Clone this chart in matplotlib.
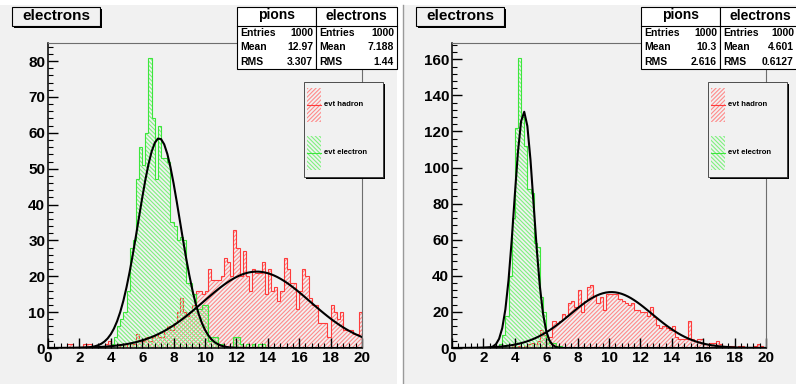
import numpy as np
import matplotlib
matplotlib.use("Agg")
import matplotlib.pyplot as plt
from matplotlib.patches import Rectangle
from matplotlib.lines import Line2D
from matplotlib.ticker import MultipleLocator

plt.rcParams['font.family'] = ['Liberation Sans', 'DejaVu Sans']
plt.rcParams['font.weight'] = 'bold'
plt.rcParams['hatch.linewidth'] = 0.8

W, H = 796, 384

# 100 bins from 0 to 20
edges = np.linspace(0, 20, 101)

left_pions = [0, 0, 0, 0, 0, 0, 1, 1, 0, 0,
              0, 1, 1, 1, 0, 0, 0, 0, 1, 2,
              0, 0, 1, 0, 1, 0, 1, 1, 4, 2,
              2, 3, 2, 3, 4, 3, 3, 5, 6, 5,
              7, 10, 14, 10, 9, 10, 12, 16, 16, 15,
              16, 22, 19, 19, 19, 20, 25, 24, 20, 33,
              28, 20, 27, 20, 16, 22, 21, 21, 24, 15,
              22, 16, 17, 13, 16, 25, 22, 18, 18, 11,
              16, 22, 20, 14, 12, 12, 7, 7, 7, 3,
              12, 10, 8, 10, 5, 5, 5, 4, 4, 10]
left_electrons = [0, 0, 0, 0, 0, 0, 0, 0, 0, 0,
                  0, 0, 0, 0, 0, 0, 0, 0, 0, 0,
                  1, 3, 6, 8, 10, 16, 28, 30, 47, 56,
                  51, 60, 81, 64, 47, 62, 53, 53, 52, 35,
                  34, 30, 31, 30, 18, 18, 15, 11, 11, 12,
                  12, 2, 3, 3, 1, 1, 0, 0, 0, 3,
                  3, 1, 0, 1, 0, 1, 0, 1, 1, 0,
                  0, 0, 0, 0, 0, 0, 0, 0, 0, 0,
                  0, 0, 0, 0, 0, 0, 0, 0, 0, 0,
                  0, 0, 0, 0, 0, 0, 0, 0, 0, 0]
right_pions = [0, 0, 0, 0, 0, 0, 0, 0, 0, 0,
               0, 0, 0, 0, 0, 0, 0, 0, 0, 1,
               0, 1, 0, 1, 2, 3, 2, 4, 10, 7,
               6, 6, 15, 14, 15, 19, 18, 25, 26, 23,
               32, 20, 26, 34, 35, 29, 25, 28, 21, 30,
               30, 30, 30, 27, 26, 25, 24, 25, 21, 21,
               20, 20, 18, 23, 17, 13, 11, 12, 11, 10,
               12, 6, 5, 5, 5, 15, 5, 4, 5, 5,
               2, 2, 3, 3, 4, 2, 1, 1, 1, 1,
               0, 1, 1, 0, 0, 0, 1, 2, 1, 0]
right_electrons = [0, 0, 0, 0, 0, 0, 0, 0, 0, 0,
                   0, 0, 0, 0, 0, 2, 7, 18, 40, 72,
                   122, 161, 128, 112, 88, 86, 58, 56, 28, 20,
                   5, 3, 3, 1, 1, 0, 0, 0, 0, 0,
                   0, 0, 0, 0, 0, 0, 0, 0, 0, 0,
                   0, 0, 0, 0, 0, 0, 0, 0, 0, 0,
                   0, 0, 0, 0, 0, 0, 0, 0, 0, 0,
                   0, 0, 0, 0, 0, 0, 0, 0, 0, 0,
                   0, 0, 0, 0, 0, 0, 0, 0, 0, 0,
                   0, 0, 0, 0, 0, 0, 0, 0, 0, 0]

# gaussian fit parameters: constant, mean, sigma
left_fit_pions = (21.3, 13.3, 3.4)
left_fit_electrons = (58.5, 7.08, 1.32)
right_fit_pions = (31.0, 10.15, 2.6)
right_fit_electrons = (131.0, 4.58, 0.62)

# stats box text
stat_labels = ["Entries", "Mean", "RMS"]
left_stats_pions = ["1000", "12.97", "3.307"]
left_stats_electrons = ["1000", "7.188", "1.44"]
right_stats_pions = ["1000", "10.3", "2.616"]
right_stats_electrons = ["1000", "4.601", "0.6127"]

legend_labels = ["evt hadron", "evt electron"]

PAD = '#f1f1f1'
RED_LINE, RED_HATCH = '#ff3b3b', '#ff8a8a'
GRN_LINE, GRN_HATCH = '#3ce63c', '#7ef27e'
HATCH_P = '////////'
HATCH_E = '\\\\\\\\\\\\\\\\'

fig = plt.figure(figsize=(W / 100, H / 100), dpi=100, facecolor='white')


def rect(x0, y0, x1, y1, **kw):
    r = Rectangle((x0 / W, 1 - y1 / H), (x1 - x0) / W, (y1 - y0) / H,
                  transform=fig.transFigure, **kw)
    fig.add_artist(r)


def text(x, y, s, **kw):
    fig.text(x / W, 1 - y / H, s, va='center', **kw)


def gaus(p, x):
    return p[0] * np.exp(-0.5 * ((x - p[1]) / p[2]) ** 2)


def panel(px, pions, electrons, fit_p, fit_e, st_p, st_e, ymaj, ymin):
    # pad background, behind the axes
    rect(px, 5, px + 397, 384, facecolor=PAD, edgecolor='none', zorder=-10)
    x0, x1 = px + 48, px + 362
    ax = fig.add_axes([x0 / W, 1 - 348 / H, (x1 - x0) / W, 305 / H])
    ax.set_facecolor(PAD)
    ax.stairs(pions, edges, fill=True, facecolor='none', edgecolor=RED_HATCH,
              hatch=HATCH_P, linewidth=0)
    ax.stairs(pions, edges, color=RED_LINE, linewidth=0.8)
    ax.stairs(electrons, edges, fill=True, facecolor='none', edgecolor=GRN_HATCH,
              hatch=HATCH_E, linewidth=0)
    ax.stairs(electrons, edges, color=GRN_LINE, linewidth=0.8)
    xf = np.linspace(0, 20, 101)
    ax.plot(xf, gaus(fit_p, xf), color='black', lw=1.5)
    ax.plot(xf, gaus(fit_e, xf), color='black', lw=1.5)
    ax.set_xlim(0, 20)
    ax.set_ylim(0, 1.05 * max(max(pions), max(electrons)))
    ax.xaxis.set_major_locator(MultipleLocator(2))
    ax.xaxis.set_minor_locator(MultipleLocator(0.4))
    ax.yaxis.set_major_locator(MultipleLocator(ymaj))
    ax.yaxis.set_minor_locator(MultipleLocator(ymin))
    ax.tick_params(which='major', direction='in', length=7, width=1,
                   labelsize=11, pad=2)
    ax.tick_params(which='minor', direction='in', length=3.5, width=0.8)
    for s in ['top', 'right']:
        ax.spines[s].set_color('#6e6e6e')
    for s in ['left', 'bottom']:
        ax.spines[s].set_linewidth(1.1)

    # title box
    rect(px + 14, 9, px + 102, 28, facecolor='black', edgecolor='none')
    rect(px + 12, 7, px + 100, 26, facecolor=PAD, edgecolor='black', lw=0.8)
    text(px + 56, 16.5, "electrons", ha='center', fontsize=11)

    # stats boxes
    for bx0, bx1, title, vals in [(px + 237, px + 316, "pions", st_p),
                                  (px + 316, px + 397, "electrons", st_e)]:
        rect(bx0, 7, bx1, 69, facecolor='white', edgecolor='black', lw=0.8)
        fig.add_artist(Line2D([bx0 / W, bx1 / W], [1 - 26 / H, 1 - 26 / H],
                              transform=fig.transFigure, color='black', lw=0.8))
        text((bx0 + bx1) / 2, 15.5, title, ha='center', fontsize=10)
        vx = min(bx1 - 3, W - 2)
        for i, (lab, v) in enumerate(zip(stat_labels, vals)):
            y = 33 + 14.3 * i
            text(bx0 + 3, y, lab, ha='left', fontsize=7.5)
            text(vx, y, v, ha='right', fontsize=7.5)

    # legend
    lx0, lx1 = px + 304, px + 383
    rect(lx0 + 2, 84, lx1 + 2, 179, facecolor='black', edgecolor='none')
    rect(lx0, 82, lx1, 177, facecolor=PAD, edgecolor='#333333', lw=0.6)
    for (ytop, hatch, hc, lc, lab) in [
            (88, HATCH_P, RED_HATCH, RED_LINE, legend_labels[0]),
            (136, HATCH_E, GRN_HATCH, GRN_LINE, legend_labels[1])]:
        rect(lx0 + 3, ytop, lx0 + 17, ytop + 34, facecolor='none', edgecolor=hc,
             hatch=hatch, lw=0)
        yc = ytop + 17
        fig.add_artist(Line2D([(lx0 + 3) / W, (lx0 + 17) / W], [1 - yc / H] * 2,
                              transform=fig.transFigure, color=lc, lw=0.8))
        text(lx0 + 20, yc, lab, ha='left', fontsize=5.5)
    return ax


panel(0, left_pions, left_electrons, left_fit_pions, left_fit_electrons,
      left_stats_pions, left_stats_electrons, 10, 2)
panel(404, right_pions, right_electrons, right_fit_pions, right_fit_electrons,
      right_stats_pions, right_stats_electrons, 20, 4)

fig.add_artist(Line2D([403 / W, 403 / W], [0, 1 - 5 / H], transform=fig.transFigure,
                      color='#9a9a9a', lw=1))

fig.savefig("out.png", dpi=100, facecolor='white')
